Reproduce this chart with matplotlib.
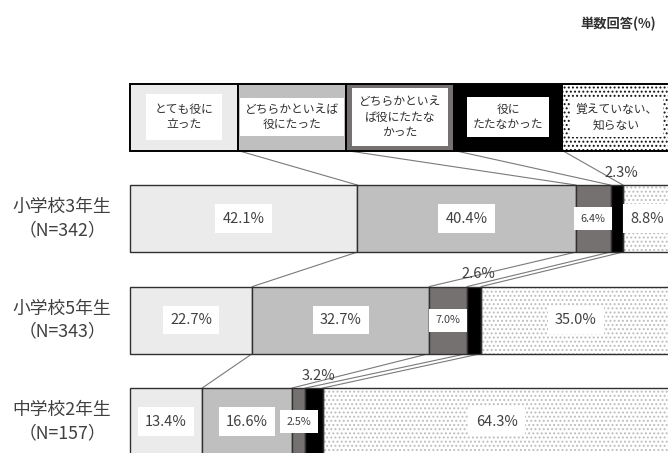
import numpy as np
import matplotlib
matplotlib.use("Agg")
import matplotlib.pyplot as plt

plt.rcParams['font.family'] = ['Noto Sans CJK JP', 'DejaVu Sans']
plt.rcParams['hatch.linewidth'] = 0.9

# データ
groups = ["小学校3年生\n（N=342）", "小学校5年生\n（N=343）", "中学校2年生\n（N=157）"]
answers = ["とても役に\n立った", "どちらかといえば\n役にたった", "どちらかといえ\nば役にたたな\nかった",
           "役に\nたたなかった", "覚えていない、\n知らない"]
very_useful = [42.1, 22.7, 13.4]
rather_useful = [40.4, 32.7, 16.6]
rather_not = [6.4, 7.0, 2.5]
not_useful = [2.3, 2.6, 3.2]
dont_know = [8.8, 35.0, 64.3]

series = [very_useful, rather_useful, rather_not, not_useful, dont_know]
colors = ["#ebebeb", "#bfbfbf", "#767171", "#000000", "#ffffff"]
leg_pads = [0.75, 0.4, 0.6, 0.5, 0.45]
TXT = "#404040"
BAR_H = 0.66

fig = plt.figure(figsize=(6.68, 4.53), dpi=100)
ax = fig.add_axes([0, 0, 1, 1])
ax.set_xlim(-23.97, 99.52)
ax.set_ylim(2.31, -2.153)
ax.axis("off")

data = np.array(series)           # 5 x 3
cum = np.cumsum(data, axis=0)
left = cum - data
rows = np.arange(len(groups))

# 凡例の行（上の5つの箱）
leg_w = 100 / len(answers)
for k, lab in enumerate(answers):
    x0 = k * leg_w
    if k == 4:
        ax.barh(-1, leg_w, left=x0, height=BAR_H, color="white", edgecolor="#101010",
                hatch="....", linewidth=0, zorder=2)
        ax.barh(-1, leg_w, left=x0, height=BAR_H, fill=False, edgecolor="black",
                linewidth=1.4, zorder=3)
    else:
        ax.barh(-1, leg_w, left=x0, height=BAR_H, color=colors[k], edgecolor="black",
                linewidth=1.4, zorder=3)
    ax.text(x0 + leg_w / 2, -1, lab, ha="center", va="center", fontsize=8.5,
            color="#303030", linespacing=1.25, zorder=5,
            bbox=dict(boxstyle=f"square,pad={leg_pads[k]}", fc="white", ec="none"))

# 帯グラフ
for k in range(len(series)):
    if k == 4:
        ax.barh(rows, data[k], left=left[k], height=BAR_H, color="white", edgecolor="#bdbdbd",
                hatch="....", linewidth=0, zorder=2)
        ax.barh(rows, data[k], left=left[k], height=BAR_H, fill=False, edgecolor="#303030",
                linewidth=1.0, zorder=3)
    else:
        ax.barh(rows, data[k], left=left[k], height=BAR_H, color=colors[k], edgecolor="#303030",
                linewidth=1.0, zorder=3)

# 数値ラベル
for k in range(len(series)):
    for i in rows:
        v = data[k][i]
        xc = left[k][i] + v / 2
        s = f"{v:.1f}%"
        if k == 3:
            ax.text(xc + 0.8, i - BAR_H / 2 - 0.05, s, ha="center", va="bottom", fontsize=10.5,
                    color=TXT, zorder=6)
        elif k == 2:
            ax.text(xc, i, s, ha="center", va="center", fontsize=7.8, color=TXT, zorder=6,
                    bbox=dict(boxstyle="square,pad=0.6", fc="white", ec="none"))
        else:
            ax.text(xc, i, s, ha="center", va="center", fontsize=10.5, color=TXT, zorder=6,
                    bbox=dict(boxstyle="square,pad=0.5", fc="white", ec="none"))

# 区分線（系列線）
line_kw = dict(color="#7a7a7a", linewidth=0.8, zorder=1)
for k in range(4):
    ax.plot([(k + 1) * leg_w, cum[k][0]], [-1 + BAR_H / 2, -BAR_H / 2], **line_kw)
for i in rows[:-1]:
    for k in range(4):
        ax.plot([cum[k][i], cum[k][i + 1]], [i + BAR_H / 2, i + 1 - BAR_H / 2], **line_kw)

# 行ラベル
for i, g in enumerate(groups):
    ax.text(-12.5, i, g, ha="center", va="center", fontsize=12.8, color=TXT, linespacing=1.35)

fig.text(656 / 668, 1 - 24 / 453, "単数回答(%)", ha="right", va="center", fontsize=9.5,
         fontweight="bold", color="#303030")

fig.savefig("out.png", dpi=100)
